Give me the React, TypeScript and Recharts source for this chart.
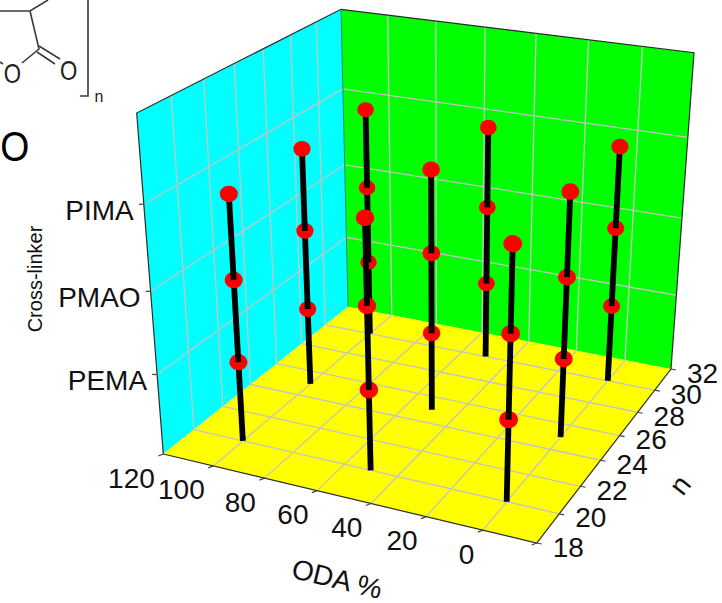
import React from 'react'
import { Scatter, ScatterChart, XAxis, YAxis } from 'recharts'

const odaTicks = [120, 100, 80, 60, 40, 20, 0]
const nTicks = [18, 20, 22, 24, 26, 28, 30, 32]
const crossLinkers = ['PEMA', 'PMAO', 'PIMA']
const crossLinkerLevels = [1, 2, 3]

// measured samples, back row first so the front stems paint over them
const stemOda = [0, 50, 100]
const stemN = [30, 25, 20]

const ODA_MIN = -18.5
const ODA_MAX = 120
const N_MIN = 18
const N_MAX = 32
const Z_MAX = 4

const WIDTH = 722
const HEIGHT = 603
const FONT = '"Liberation Sans", Arial, sans-serif'

type Pt = { x: number; y: number }

// unit square -> quad
function quadMap(q: number[][]) {
  const [[x0, y0], [x1, y1], [x2, y2], [x3, y3]] = q
  const dx1 = x1 - x2, dx2 = x3 - x2, sx = x0 - x1 + x2 - x3
  const dy1 = y1 - y2, dy2 = y3 - y2, sy = y0 - y1 + y2 - y3
  const den = dx1 * dy2 - dx2 * dy1
  const g = (sx * dy2 - dx2 * sy) / den
  const h = (dx1 * sy - sx * dy1) / den
  const a = x1 - x0 + g * x1, b = x3 - x0 + h * x3
  const d = y1 - y0 + g * y1, e = y3 - y0 + h * y3
  return (u: number, v: number): Pt => {
    const w = g * u + h * v + 1
    return { x: (a * u + b * v + x0) / w, y: (d * u + e * v + y0) / w }
  }
}

const floorMap = quadMap([[163.3, 454], [536.7, 543], [671, 369], [348, 306.7]])
const topMap = quadMap([[136.7, 113], [550, 181], [694, 52.7], [341, 9.3]])

function project(oda: number, n: number, z: number): Pt {
  const u = (ODA_MAX - oda) / (ODA_MAX - ODA_MIN)
  const v = (n - N_MIN) / (N_MAX - N_MIN)
  const f = floorMap(u, v)
  const t = topMap(u, v)
  const s = z / Z_MAX
  const k = s / (s + (1 - s) * 1.096)
  return { x: f.x + (t.x - f.x) * k, y: f.y + (t.y - f.y) * k }
}

function localScale(oda: number, n: number) {
  const f = project(oda, n, 0)
  const t = project(oda, n, Z_MAX)
  return Math.abs(f.y - t.y) / 350
}

const axisStyle = { fontFamily: FONT, fontSize: 28, fill: '#111' }

const hidden = () => null

function panel(key: string, pts: Pt[], fill: string) {
  return (
    <Scatter
      key={key}
      data={pts}
      isAnimationActive={false}
      shape={hidden}
      line={(p: any) => (
        <polygon
          points={p.points.map((c: any) => `${c.x},${c.y}`).join(' ')}
          fill={fill}
        />
      )}
    />
  )
}

function rule(key: string, pts: Pt[], stroke = '#c4c4c4', strokeWidth = 1.3) {
  return (
    <Scatter
      key={key}
      data={pts}
      isAnimationActive={false}
      shape={hidden}
      line={{ stroke, strokeWidth }}
      lineType="joint"
    />
  )
}

function labels(key: string, rows: (Pt & { text: string })[], anchor: 'start' | 'end', dx: number, dy: number) {
  return (
    <Scatter
      key={key}
      data={rows}
      isAnimationActive={false}
      shape={(p: any) => (
        <text x={p.cx + dx} y={p.cy + dy} textAnchor={anchor} dominantBaseline="central" style={axisStyle}>
          {p.payload.text}
        </text>
      )}
    />
  )
}

function Fragment() {
  return (
    <svg width={WIDTH} height={200} style={{ position: 'absolute', left: 0, top: 0 }}>
      <g stroke="#3a3a3a" strokeWidth={1.6} fill="none">
        <path d="M0 11H30L48 0" />
        <path d="M30 11L39 49L22 63" />
        <path d="M39 46L60 59M37 52L55 64" />
        <path d="M0 62L3 64" />
        <path d="M88 0V96H80" />
      </g>
      <g fontFamily={FONT} fill="#222" fontSize={28.5} textAnchor="middle">
        <text transform="translate(12.5 83) scale(.78 1)">O</text>
        <text transform="translate(68.7 80) scale(.78 1)">O</text>
      </g>
      <text x={99} y={102} fontFamily={FONT} fontSize={16} textAnchor="middle" fill="#222">n</text>
      <text transform="translate(14.8 160.5) scale(.89 1)" fontFamily={FONT} fontSize={42} textAnchor="middle" fill="#000">O</text>
    </svg>
  )
}

export default function App() {
  const stems: { oda: number; n: number }[] = []
  stemN.forEach((n) => stemOda.forEach((oda) => stems.push({ oda, n })))
  stems.sort((a, b) => b.n - a.n)

  return (
    <div style={{ position: 'absolute', left: 0, top: 0, width: WIDTH, height: HEIGHT, background: '#fff' }}>
      <Fragment />
      <div style={{ position: 'absolute', left: 0, top: 0 }}>
        <ScatterChart width={WIDTH} height={HEIGHT} margin={{ top: 0, right: 0, bottom: 0, left: 0 }}>
          <XAxis type="number" dataKey="x" domain={[0, WIDTH]} hide />
          <YAxis type="number" dataKey="y" domain={[0, HEIGHT]} reversed hide />

          {panel('left', [project(ODA_MAX, N_MIN, 0), project(ODA_MAX, N_MAX, 0), project(ODA_MAX, N_MAX, Z_MAX), project(ODA_MAX, N_MIN, Z_MAX)], '#00ffff')}
          {panel('back', [project(ODA_MAX, N_MAX, 0), project(ODA_MIN, N_MAX, 0), project(ODA_MIN, N_MAX, Z_MAX), project(ODA_MAX, N_MAX, Z_MAX)], '#00ff00')}
          {panel('floor', [project(ODA_MAX, N_MIN, 0), project(ODA_MIN, N_MIN, 0), project(ODA_MIN, N_MAX, 0), project(ODA_MAX, N_MAX, 0)], '#ffff00')}

          {nTicks.slice(1, -1).map((n) => rule(`lw-${n}`, [project(ODA_MAX, n, 0), project(ODA_MAX, n, Z_MAX)]))}
          {crossLinkerLevels.map((z) => rule(`lz-${z}`, [project(ODA_MAX, N_MIN, z), project(ODA_MAX, N_MAX, z)]))}
          {odaTicks.slice(1).map((o) => rule(`bw-${o}`, [project(o, N_MAX, 0), project(o, N_MAX, Z_MAX)]))}
          {crossLinkerLevels.map((z) => rule(`bz-${z}`, [project(ODA_MAX, N_MAX, z), project(ODA_MIN, N_MAX, z)]))}
          {odaTicks.slice(1).map((o) => rule(`fo-${o}`, [project(o, N_MIN, 0), project(o, N_MAX, 0)]))}
          {nTicks.slice(1, -1).map((n) => rule(`fn-${n}`, [project(ODA_MAX, n, 0), project(ODA_MIN, n, 0)]))}

          {rule('e1', [project(ODA_MAX, N_MIN, 0), project(ODA_MAX, N_MIN, Z_MAX), project(ODA_MAX, N_MAX, Z_MAX), project(ODA_MIN, N_MAX, Z_MAX), project(ODA_MIN, N_MAX, 0), project(ODA_MIN, N_MIN, 0), project(ODA_MAX, N_MIN, 0)], '#2b2b2b', 1.2)}
          {rule('e2', [project(ODA_MAX, N_MAX, 0), project(ODA_MAX, N_MAX, Z_MAX)], '#2b7f7f', 1)}

          {odaTicks.concat(ODA_MIN).map((o) => {
            const a = project(o, N_MIN, 0)
            return rule(`to-${o}`, [a, { x: a.x - 5, y: a.y + 2 }], '#444', 1.2)
          })}
          {nTicks.map((n) => {
            const a = project(ODA_MIN, n, 0)
            return rule(`tn-${n}`, [a, { x: a.x + 5, y: a.y + 1 }], '#444', 1.2)
          })}
          {crossLinkerLevels.map((z) => {
            const a = project(ODA_MAX, N_MIN, z)
            return rule(`tz-${z}`, [a, { x: a.x - 5, y: a.y }], '#444', 1.2)
          })}

          {labels('oda', odaTicks.map((o) => ({ ...project(o, N_MIN, 0), text: String(o) })), 'end', -8.5, 24)}
          {labels('n', nTicks.map((n) => ({ ...project(ODA_MIN, n, 0), text: String(n) })), 'start', 16, 4)}
          {labels('cl', crossLinkers.map((c, i) => ({ ...project(ODA_MAX, N_MIN, crossLinkerLevels[i]), text: c })), 'end', -10, 6.5)}

          {stems.flatMap((s) => {
            const sc = localScale(s.oda, s.n)
            const levels = [0, ...crossLinkerLevels]
            return crossLinkerLevels.map((z, i) => (
              <Scatter
                key={`stem-${s.oda}-${s.n}-${z}`}
                data={[project(s.oda, s.n, levels[i]), { ...project(s.oda, s.n, z), dot: true }]}
                isAnimationActive={false}
                line={{ stroke: '#000', strokeWidth: 5.8 }}
                lineType="joint"
                shape={(p: any) =>
                  p.payload.dot ? <ellipse cx={p.cx} cy={p.cy} rx={9.4 * sc} ry={8.6 * sc} fill="#ff0000" /> : <g />
                }
              />
            ))
          })}
        </ScatterChart>
      </div>
      <svg width={WIDTH} height={HEIGHT} style={{ position: 'absolute', left: 0, top: 0, pointerEvents: 'none' }}>
        <text x={337} y={579} transform="rotate(13.5 337 579)" textAnchor="middle" dominantBaseline="central" fontFamily={FONT} fontSize={28} fill="#111">ODA %</text>
        <text x={680} y={485} transform="rotate(-52 680 485)" textAnchor="middle" dominantBaseline="central" fontFamily={FONT} fontSize={28} fill="#111">n</text>
        <text x={35} y={279} transform="rotate(-90 35 279)" textAnchor="middle" dominantBaseline="central" fontFamily={FONT} fontSize={20} fill="#111">Cross-linker</text>
      </svg>
    </div>
  )
}
